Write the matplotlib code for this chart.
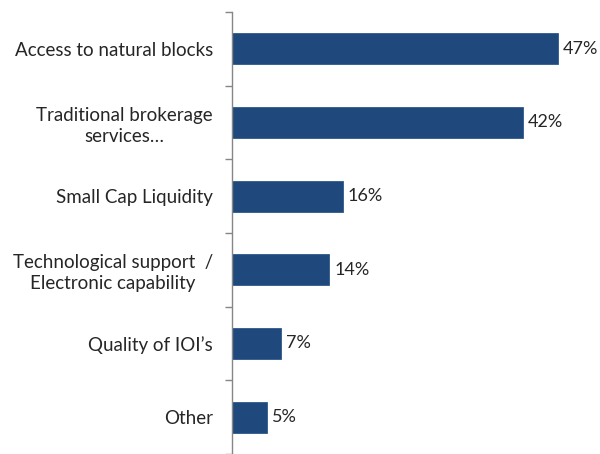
import matplotlib
matplotlib.use("Agg")
import matplotlib.pyplot as plt
import numpy as np

categories = [
    "Access to natural blocks",
    "Traditional brokerage\nservices…",
    "Small Cap Liquidity",
    "Technological support  /\nElectronic capability",
    "Quality of IOI’s",
    "Other",
]
values = [47, 42, 16, 14, 7, 5]

plt.rcParams["font.family"] = ["Lato", "DejaVu Sans"]

fig = plt.figure(figsize=(6.0, 4.54), dpi=100)
ax = fig.add_axes([0.387, 0.0, 0.583, 0.974])

y = np.arange(len(categories))
ax.barh(y, values, height=0.42, color="#1F497D", edgecolor="#2E5A8C", linewidth=0.6)

# value labels just past the bar ends
for yi, v in zip(y, values):
    ax.text(v + 0.7, yi, f"{v}%", va="center", ha="left", fontsize=13, color="#262626")

ax.set_ylim(len(categories) - 0.5, -0.5)
ax.set_xlim(0, 50.5)

ax.set_yticks(y)
ax.set_yticklabels(categories, fontsize=13.5, color="#262626")
for lbl in ax.get_yticklabels():
    lbl.set_multialignment("center")
    lbl.set_linespacing(1.3)
ax.tick_params(axis="y", which="major", length=0, pad=14)
# small tick marks between categories
ax.set_yticks(np.arange(-0.5, len(categories) + 0.5, 1), minor=True)
ax.tick_params(axis="y", which="minor", length=5, width=1, color="#868686")
ax.set_xticks([])

for s in ["top", "right", "bottom"]:
    ax.spines[s].set_visible(False)
ax.spines["left"].set_color("#868686")
ax.spines["left"].set_linewidth(1)

fig.savefig("out.png", dpi=100)
